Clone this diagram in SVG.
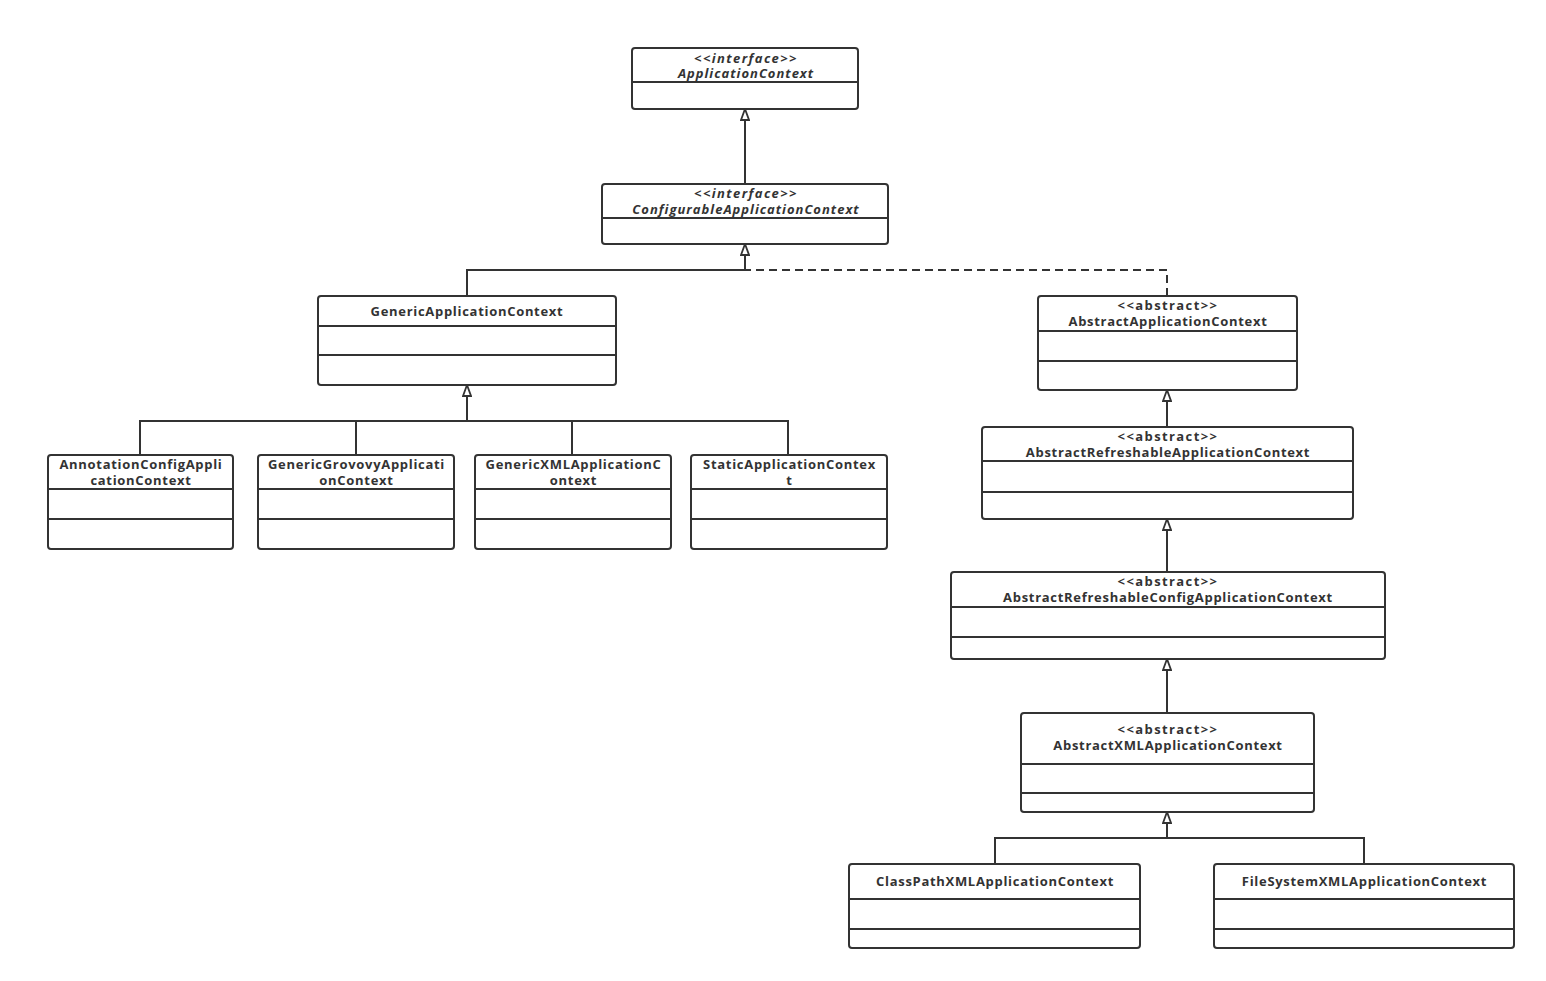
<svg xmlns="http://www.w3.org/2000/svg" width="1546" height="981" viewBox="0 0 1546 981">
<style>
.box{fill:#fff;stroke:#333;stroke-width:2}
.div{stroke:#333;stroke-width:2}
.t{font-family:"Open Sans","Liberation Sans",sans-serif;font-size:13px;font-weight:bold;fill:#333;text-anchor:middle;letter-spacing:0.7px}
.i{font-style:italic;letter-spacing:1px}
.s{letter-spacing:1.4px}
.c{fill:none;stroke:#333;stroke-width:2}
.d{stroke-dasharray:8 5}
</style>
<defs>
<marker id="tri" viewBox="0 0 13 10" refX="12" refY="5" markerWidth="13" markerHeight="10" markerUnits="userSpaceOnUse" orient="auto">
<path d="M1,1 L12,5 L1,9 Z" fill="#fff" stroke="#333" stroke-width="1.8"/>
</marker>
</defs>
<rect width="1546" height="981" fill="#fff"/>
<g id="connectors">
<path class="c" d="M745,184 V109" marker-end="url(#tri)"/>
<path class="c" d="M467,296 V270 H745 V244" marker-end="url(#tri)"/>
<path class="c d" d="M1167,296 V270 H745"/>
<path class="c" d="M140,455 V421 H788 V455"/>
<path class="c" d="M356,455 V421"/>
<path class="c" d="M572,455 V421"/>
<path class="c" d="M467,421 V385" marker-end="url(#tri)"/>
<path class="c" d="M1167,427 V390" marker-end="url(#tri)"/>
<path class="c" d="M1167,572 V519" marker-end="url(#tri)"/>
<path class="c" d="M1167,713 V659" marker-end="url(#tri)"/>
<path class="c" d="M995,864 V838 H1364 V864"/>
<path class="c" d="M1167,838 V812" marker-end="url(#tri)"/>
</g>
<g id="ApplicationContext">
<rect class="box" x="632" y="48" width="226" height="61" rx="3"/>
<line class="div" x1="632" y1="82" x2="858" y2="82"/>
<text class="t i s" x="746" y="62.5">&lt;&lt;interface&gt;&gt;</text>
<text class="t i" x="746" y="77.5">ApplicationContext</text>
</g>
<g id="ConfigurableApplicationContext">
<rect class="box" x="602" y="184" width="286" height="60" rx="3"/>
<line class="div" x1="602" y1="218" x2="888" y2="218"/>
<text class="t i s" x="746" y="197.5">&lt;&lt;interface&gt;&gt;</text>
<text class="t i" x="746" y="213.5">ConfigurableApplicationContext</text>
</g>
<g id="GenericApplicationContext">
<rect class="box" x="318" y="296" width="298" height="89" rx="3"/>
<line class="div" x1="318" y1="326" x2="616" y2="326"/>
<line class="div" x1="318" y1="355" x2="616" y2="355"/>
<text class="t" x="467" y="315.5">GenericApplicationContext</text>
</g>
<g id="AbstractApplicationContext">
<rect class="box" x="1038" y="296" width="259" height="94" rx="3"/>
<line class="div" x1="1038" y1="331" x2="1297" y2="331"/>
<line class="div" x1="1038" y1="361" x2="1297" y2="361"/>
<text class="t s" x="1168" y="309.5">&lt;&lt;abstract&gt;&gt;</text>
<text class="t" x="1168" y="325.5">AbstractApplicationContext</text>
</g>
<g id="AbstractRefreshableApplicationContext">
<rect class="box" x="982" y="427" width="371" height="92" rx="3"/>
<line class="div" x1="982" y1="461" x2="1353" y2="461"/>
<line class="div" x1="982" y1="492" x2="1353" y2="492"/>
<text class="t s" x="1168" y="440.5">&lt;&lt;abstract&gt;&gt;</text>
<text class="t" x="1168" y="456.5">AbstractRefreshableApplicationContext</text>
</g>
<g id="AbstractRefreshableConfigApplicationContext">
<rect class="box" x="951" y="572" width="434" height="87" rx="3"/>
<line class="div" x1="951" y1="607" x2="1385" y2="607"/>
<line class="div" x1="951" y1="637" x2="1385" y2="637"/>
<text class="t s" x="1168" y="585.5">&lt;&lt;abstract&gt;&gt;</text>
<text class="t" x="1168" y="601.5">AbstractRefreshableConfigApplicationContext</text>
</g>
<g id="AbstractXMLApplicationContext">
<rect class="box" x="1021" y="713" width="293" height="99" rx="3"/>
<line class="div" x1="1021" y1="764" x2="1314" y2="764"/>
<line class="div" x1="1021" y1="793" x2="1314" y2="793"/>
<text class="t s" x="1168" y="733.5">&lt;&lt;abstract&gt;&gt;</text>
<text class="t" x="1168" y="749.5">AbstractXMLApplicationContext</text>
</g>
<g id="ClassPathXMLApplicationContext">
<rect class="box" x="849" y="864" width="291" height="84" rx="3"/>
<line class="div" x1="849" y1="899" x2="1140" y2="899"/>
<line class="div" x1="849" y1="929" x2="1140" y2="929"/>
<text class="t" x="995" y="885.5">ClassPathXMLApplicationContext</text>
</g>
<g id="FileSystemXMLApplicationContext">
<rect class="box" x="1214" y="864" width="300" height="84" rx="3"/>
<line class="div" x1="1214" y1="899" x2="1514" y2="899"/>
<line class="div" x1="1214" y1="929" x2="1514" y2="929"/>
<text class="t" x="1364.5" y="885.5">FileSystemXMLApplicationContext</text>
</g>
<g id="AnnotationConfigApplicationContext">
<rect class="box" x="48" y="455" width="185" height="94" rx="3"/>
<line class="div" x1="48" y1="489" x2="233" y2="489"/>
<line class="div" x1="48" y1="519" x2="233" y2="519"/>
<text class="t" x="141" y="468.5">AnnotationConfigAppli</text>
<text class="t" x="141" y="484.5">cationContext</text>
</g>
<g id="GenericGrovovyApplicationContext">
<rect class="box" x="258" y="455" width="196" height="94" rx="3"/>
<line class="div" x1="258" y1="489" x2="454" y2="489"/>
<line class="div" x1="258" y1="519" x2="454" y2="519"/>
<text class="t" x="356.5" y="468.5">GenericGrovovyApplicati</text>
<text class="t" x="356.5" y="484.5">onContext</text>
</g>
<g id="GenericXMLApplicationContext">
<rect class="box" x="475" y="455" width="196" height="94" rx="3"/>
<line class="div" x1="475" y1="489" x2="671" y2="489"/>
<line class="div" x1="475" y1="519" x2="671" y2="519"/>
<text class="t" x="573.5" y="468.5">GenericXMLApplicationC</text>
<text class="t" x="573.5" y="484.5">ontext</text>
</g>
<g id="StaticApplicationContext">
<rect class="box" x="691" y="455" width="196" height="94" rx="3"/>
<line class="div" x1="691" y1="489" x2="887" y2="489"/>
<line class="div" x1="691" y1="519" x2="887" y2="519"/>
<text class="t" x="789.5" y="468.5">StaticApplicationContex</text>
<text class="t" x="789.5" y="484.5">t</text>
</g>
</svg>
